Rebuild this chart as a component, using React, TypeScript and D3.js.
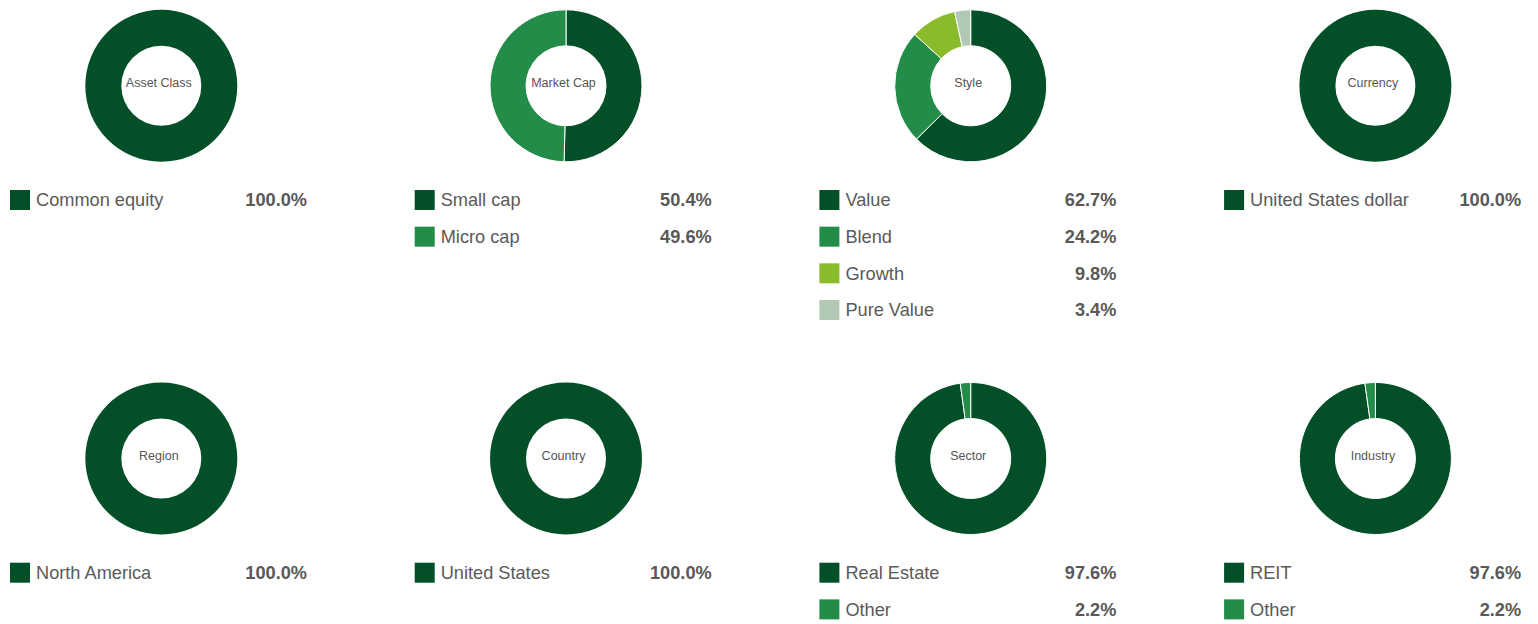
import React from "react";
import * as d3 from "d3";

const panelTitles = ["Asset Class", "Market Cap", "Style", "Currency", "Region", "Country", "Sector", "Industry"];

const assetClassLabels = ["Common equity"];
const assetClassValues = [100.0];
const marketCapLabels = ["Small cap", "Micro cap"];
const marketCapValues = [50.4, 49.6];
const styleLabels = ["Value", "Blend", "Growth", "Pure Value"];
const styleValues = [62.7, 24.2, 9.8, 3.4];
const currencyLabels = ["United States dollar"];
const currencyValues = [100.0];
const regionLabels = ["North America"];
const regionValues = [100.0];
const countryLabels = ["United States"];
const countryValues = [100.0];
const sectorLabels = ["Real Estate", "Other"];
const sectorValues = [97.6, 2.2];
const industryLabels = ["REIT", "Other"];
const industryValues = [97.6, 2.2];

const palette = ["#034f27", "#238c48", "#8abb2a", "#b1c9b3"];

const panels = [
  { labels: assetClassLabels, values: assetClassValues },
  { labels: marketCapLabels, values: marketCapValues },
  { labels: styleLabels, values: styleValues },
  { labels: currencyLabels, values: currencyValues },
  { labels: regionLabels, values: regionValues },
  { labels: countryLabels, values: countryValues },
  { labels: sectorLabels, values: sectorValues },
  { labels: industryLabels, values: industryValues },
];

const W = 1538;
const H = 624;
const FONT = "'Liberation Sans', Arial, Helvetica, sans-serif";

export default function App() {
  const colX = d3.scaleLinear().domain([0, 1]).range([10, 414.7]);
  const rowY = d3.scaleLinear().domain([0, 1]).range([85.8, 458.5]);
  const arc = d3.arc<d3.PieArcDatum<number>>().innerRadius(40).outerRadius(76);
  const pie = d3.pie<number>().sort(null).value((d) => d);
  const color = d3.scaleOrdinal<number, string>().domain([0, 1, 2, 3]).range(palette);

  return (
    <div style={{ position: "absolute", left: 0, top: 0 }}>
      <svg width={W} height={H} style={{ display: "block" }} fontFamily={FONT}>
        <rect width={W} height={H} fill="#ffffff" />
        {panels.map((p, i) => {
          const col = i % 4;
          const row = Math.floor(i / 4);
          const left = colX(col);
          const cx = left + 151.3;
          const cy = rowY(row);
          const arcs = pie(p.values);
          return (
            <g key={i}>
              <g transform={`translate(${cx},${cy})`}>
                {arcs.map((a, k) => (
                  <path
                    key={k}
                    d={arc(a) || ""}
                    fill={color(k)}
                    stroke={p.values.length > 1 ? "#ffffff" : "none"}
                    strokeWidth={1}
                  />
                ))}
                <text
                  x={-2.5}
                  y={1.5}
                  textAnchor="middle"
                  fontSize={12.5}
                  fill="#555555"
                >
                  {panelTitles[i]}
                </text>
              </g>
              {p.labels.map((lab, k) => {
                const top = cy + 104.2 + k * 36.67;
                return (
                  <g key={k}>
                    <rect x={left} y={top} width={20} height={20} fill={color(k)} />
                    <text x={left + 26} y={top + 16.2} fontSize={18.2} fill="#5a5a5a">
                      {lab}
                    </text>
                    <text
                      x={left + 297}
                      y={top + 16.2}
                      fontSize={18.2}
                      fontWeight="bold"
                      textAnchor="end"
                      fill="#595959"
                    >
                      {d3.format(".1f")(p.values[k]) + "%"}
                    </text>
                  </g>
                );
              })}
            </g>
          );
        })}
      </svg>
    </div>
  );
}
